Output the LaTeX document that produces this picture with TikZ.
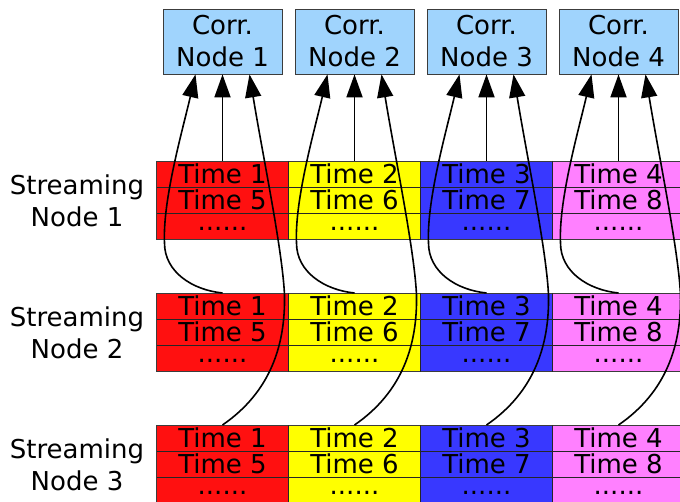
\documentclass[tikz,border=0pt]{standalone}
\usepackage{fontspec}
\setmainfont{DejaVu Sans}
\usetikzlibrary{arrows.meta,calc}

\definecolor{cred}{RGB}{255,16,16}
\definecolor{cyel}{RGB}{255,255,0}
\definecolor{cblue}{RGB}{56,56,255}
\definecolor{cpink}{RGB}{255,128,255}
\definecolor{ccorr}{RGB}{160,212,253}
\definecolor{cedge}{RGB}{60,60,60}

\begin{document}
\begin{tikzpicture}[x=1pt,y=-1pt,
  every node/.style={font=\fontsize{26}{32}\selectfont},
  corr/.style={draw=cedge,line width=0.8pt,fill=ccorr,minimum width=119pt,
    minimum height=65pt,inner sep=0pt,align=center},
  cell/.style={draw=cedge,line width=0.8pt,anchor=north west,minimum width=132pt,
    minimum height=26.3pt,inner sep=0pt,outer sep=0pt},
  trow/.style={text height=19pt,text depth=0pt},
  drow/.style={text height=7pt,text depth=0pt},
  sep/.style={draw=black!85,line width=1.5pt},
  lab/.style={align=center,inner sep=0pt},
  flow/.style={line width=1.8pt,-{Triangle[length=23pt,width=16pt]}},
  bow/.style={line width=1.6pt,-{Triangle[length=23pt,width=16pt]}}]
\useasboundingbox (0,0) rectangle (680,502);
\clip (0,0) rectangle (680,502);

% correlation nodes
\foreach \c in {1,...,4}
  \node[corr] (corr\c) at ({222.5+132*(\c-1)},41.5) {Corr.\\Node \c};

% streaming node labels
\foreach \s/\top in {1/161,2/293,3/425}
  \node[lab] (lab\s) at (77,{\top+39.5}) {Streaming\\Node \s};

% buffers: one block per streaming node and column, three rows each
\foreach \c/\col in {1/cred,2/cyel,3/cblue,4/cpink}{
  \foreach \s/\top in {1/161,2/293,3/425}{
    \pgfmathsetmacro{\xl}{156.5+132*(\c-1)}
    \pgfmathtruncatemacro{\ta}{\c}
    \pgfmathtruncatemacro{\tb}{\c+4}
    \node[cell,trow,fill=\col] (c-\s-\c-1) at (\xl,\top) {Time \ta};
    \node[cell,trow,fill=\col] (c-\s-\c-2) at (\xl,{\top+26.3}) {Time \tb};
    \node[cell,drow,fill=\col] (c-\s-\c-3) at (\xl,{\top+52.6}) {......};
    \draw[sep] (c-\s-\c-1.south west) -- (c-\s-\c-1.south east);
    \draw[sep] (c-\s-\c-2.south west) -- (c-\s-\c-2.south east);
  }
}
% column dividers
\foreach \c in {1,2,3}{
  \foreach \s in {1,2,3}
    \draw[sep,line width=1.2pt] (c-\s-\c-1.north east) -- (c-\s-\c-3.south east);
}

% data flows into each correlation node
\foreach \c in {1,...,4}{
  % streaming node 1: straight up
  \draw[flow] (c-1-\c-1.north) -- (corr\c.south);
  % streaming node 2: loops round the left side
  \coordinate (lm\c) at ($(c-2-\c-1.north)+(-58,-50)$);
  \coordinate (lt\c) at ($(corr\c.south)+(-27,0)$);
  \draw[bow] (c-2-\c-1.north)
     .. controls ($(c-2-\c-1.north)+(-30,-3)$) and ($(c-2-\c-1.north)+(-58,-21)$) .. (lm\c)
     .. controls ($(c-2-\c-1.north)+(-60,-93)$) and ($(lt\c)+(-13,56)$) .. (lt\c);
  % streaming node 3: sweeps up the right side
  \coordinate (rm\c) at ($(c-3-\c-1.north)+(62,-130)$);
  \coordinate (rt\c) at ($(corr\c.south)+(27,0)$);
  \draw[bow] (c-3-\c-1.north)
     .. controls ($(c-3-\c-1.north)+(48,-33)$) and ($(c-3-\c-1.north)+(63,-80)$) .. (rm\c)
     .. controls ($(c-3-\c-1.north)+(60,-175)$) and ($(rt\c)+(13,80)$) .. (rt\c);
}
\end{tikzpicture}
\end{document}
